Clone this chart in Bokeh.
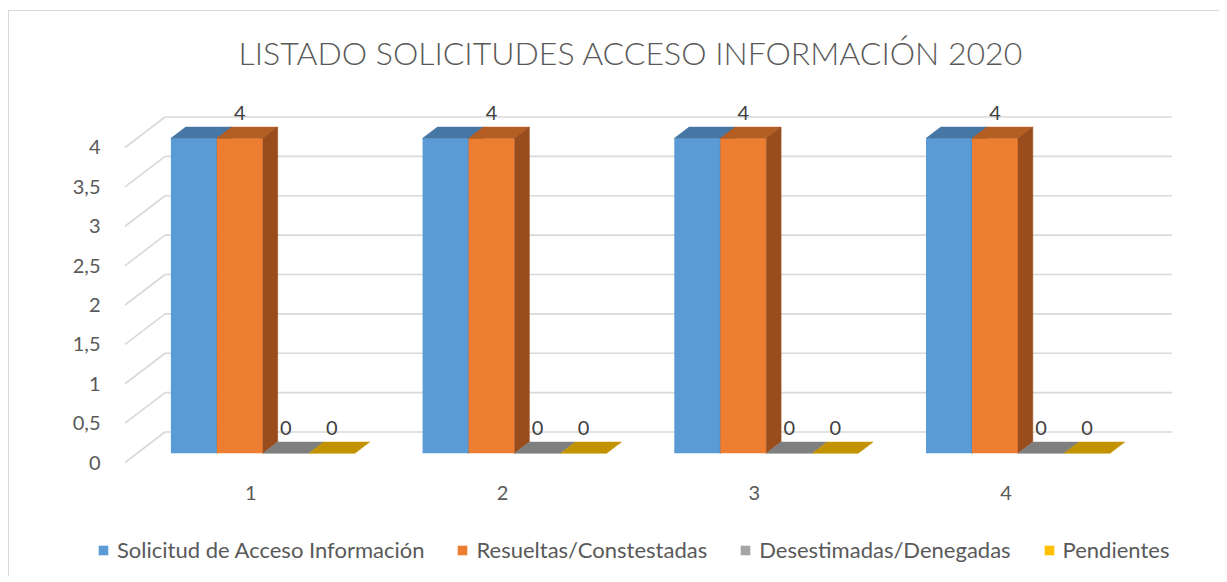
from bokeh.plotting import figure
from bokeh.models import (FixedTicker, CustomJSTickFormatter, Legend, LegendItem,
                          ColumnDataSource, Range1d)
from bokeh.embed import file_html
from bokeh.resources import INLINE
from bokeh.core.properties import value

# ---------------- data ----------------
title_text = "LISTADO SOLICITUDES ACCESO INFORMACIÓN 2020"
categories = ["1", "2", "3", "4"]
series_names = ["Solicitud de Acceso Información", "Resueltas/Constestadas",
                "Desestimadas/Denegadas", "Pendientes"]
solicitud = [4, 4, 4, 4]
resueltas = [4, 4, 4, 4]
desestimadas = [0, 0, 0, 0]
pendientes = [0, 0, 0, 0]
y_ticks = [0, 0.5, 1, 1.5, 2, 2.5, 3, 3.5, 4]
labelled_series = [1, 2, 3]   # series that show data labels

series_values = [solicitud, resueltas, desestimadas, pendientes]

# ---------------- style ----------------
FONT = "Lato"
TXT = "#595959"
front_colors = ["#5B9BD5", "#ED7D31", "#A5A5A5", "#FFC000"]
top_colors = ["#4676A3", "#B55E24", "#7F7F7F", "#C29200"]
side_colors = ["#3F6B95", "#994D1C", "#6E6E6E", "#A87F00"]
GRID = "#D9D9D9"

BAR_W = 0.1828      # bar width in category units
DX = 0.1589         # depth offset (x, category units) at full depth
DY = 0.3873         # depth offset (y, value units) at full depth
D0, D1 = 0.30, 0.67  # bar depth span
PAD = 0.5           # wall padding around categories

centers = [i + 1 for i in range(len(categories))]
n_ser = len(series_values)

p = figure(width=1211, height=566, output_backend="svg", toolbar_location=None,
           x_range=Range1d(0.24356, 4.7727), y_range=Range1d(-1.3206, 4.7238),
           x_axis_location="above",
           min_border_left=51, min_border_right=20, min_border_top=79,
           min_border_bottom=11)
p.background_fill_color = "white"
p.border_fill_color = "white"
p.outline_line_color = None
p.grid.visible = False
p.styles = {"margin-left": "8px", "margin-top": "10px",
            "border-left": "1px solid #D9D9D9", "border-top": "1px solid #D9D9D9"}

# title
p.title.text = title_text
p.title.text_font = "Lato Light, Lato"
p.title.text_font_size = "32px"
p.title.text_font_style = "normal"
p.title.text_color = TXT
p.title.align = "left"
p.title.offset = 178
p.title.standoff = 38

# walls: back gridlines + left side diagonals
wall_l = centers[0] - PAD
wall_r = centers[-1] + PAD
p.segment(x0=[wall_l + DX] * len(y_ticks), y0=[t + DY for t in y_ticks],
          x1=[wall_r + DX] * len(y_ticks), y1=[t + DY for t in y_ticks],
          line_color=GRID, line_width=1.6)
p.segment(x0=[wall_l] * len(y_ticks), y0=y_ticks,
          x1=[wall_l + DX] * len(y_ticks), y1=[t + DY for t in y_ticks],
          line_color=GRID, line_width=1.6)

legend_items = []
lab_x, lab_y, lab_t = [], [], []
for j, vals in enumerate(series_values):
    x0 = [c - (n_ser / 2) * BAR_W + j * BAR_W for c in centers]
    x1 = [a + BAR_W for a in x0]
    front = ColumnDataSource(dict(
        left=[a + D0 * DX for a in x0], right=[b + D0 * DX for b in x1],
        bottom=[D0 * DY] * len(vals), top=[v + D0 * DY for v in vals]))
    r = p.quad(left="left", right="right", bottom="bottom", top="top", source=front,
               fill_color=front_colors[j], line_color=None)
    top_src = ColumnDataSource(dict(
        xs=[[a + D0 * DX, b + D0 * DX, b + D1 * DX, a + D1 * DX] for a, b in zip(x0, x1)],
        ys=[[v + D0 * DY, v + D0 * DY, v + D1 * DY, v + D1 * DY] for v in vals]))
    p.patches(xs="xs", ys="ys", source=top_src, fill_color=top_colors[j],
              line_color=top_colors[j], line_width=0.5)
    side_src = ColumnDataSource(dict(
        xs=[[b + D0 * DX, b + D1 * DX, b + D1 * DX, b + D0 * DX] for b in x1],
        ys=[[D0 * DY, D1 * DY, v + D1 * DY, v + D0 * DY] for v in vals]))
    if max(vals) > 0:
        p.patches(xs="xs", ys="ys", source=side_src, fill_color=side_colors[j],
                  line_color=side_colors[j], line_width=0.5)
    legend_items.append(LegendItem(label=series_names[j], renderers=[r]))
    if j in labelled_series:
        for a, v in zip(x0, vals):
            lab_x.append(a + BAR_W / 2 + D0 * DX)
            lab_y.append(v + D1 * DY)
            lab_t.append(str(v))

p.text(x=lab_x, y=lab_y, text=lab_t, text_align="center", text_baseline="bottom",
       y_offset=-7, text_font=value(FONT), text_font_size="20px", text_color="#404040")

# axes (drawn at fixed data locations so that the legend can sit in the frame)
p.yaxis.ticker = FixedTicker(ticks=y_ticks)
p.yaxis.formatter = CustomJSTickFormatter(code="return tick.toString().replace('.', ',');")
p.yaxis.fixed_location = 0.4422
p.xaxis.ticker = FixedTicker(ticks=centers)
p.xaxis.major_label_overrides = {c: lab for c, lab in zip(centers, categories)}
p.xaxis.fixed_location = -0.4825
for ax in (p.xaxis, p.yaxis):
    ax.axis_line_color = None
    ax.major_tick_line_color = None
    ax.minor_tick_line_color = None
    ax.major_tick_out = 0
    ax.major_tick_in = 0
    ax.major_label_text_font = FONT
    ax.major_label_text_font_size = "20px"
    ax.major_label_text_color = TXT
p.yaxis.major_label_standoff = 10
p.xaxis.major_label_standoff = 0

legend = Legend(items=legend_items, orientation="horizontal", location=(37, 3),
                glyph_width=12, glyph_height=12, label_standoff=8, spacing=32,
                padding=0, margin=0, border_line_color=None, background_fill_alpha=0,
                label_text_font=FONT, label_text_font_size="22px", label_text_color=TXT)
p.add_layout(legend)

open("out.html", "w").write(file_html(p, INLINE))
